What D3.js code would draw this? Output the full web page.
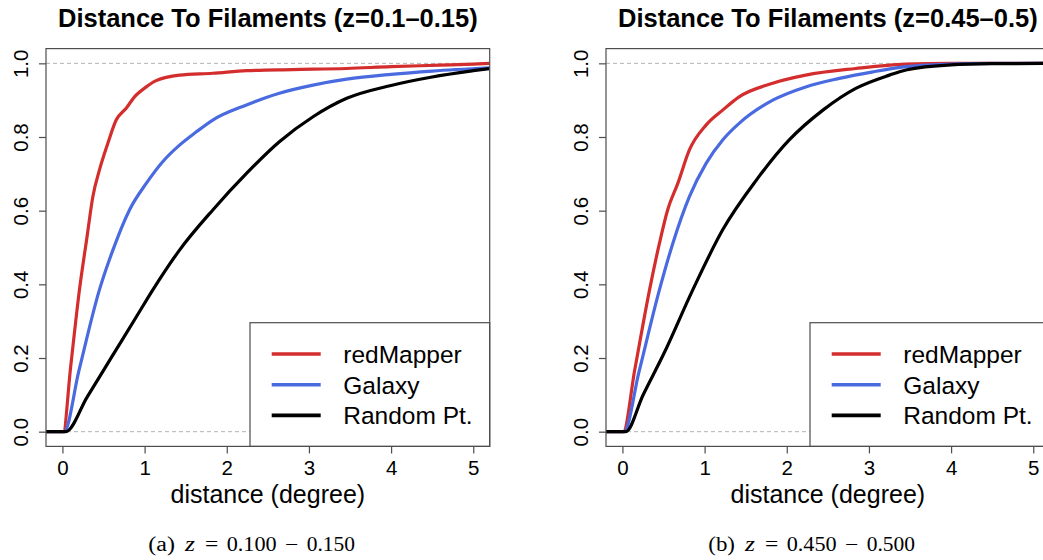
<!DOCTYPE html>
<html>
<head>
<meta charset="utf-8">
<script src="https://cdn.jsdelivr.net/npm/d3@7"></script>
<style>
  body { margin: 0; background: #fff; }
  svg { display: block; font-family: "Liberation Sans", Arial, Helvetica, sans-serif; }
</style>
</head>
<body>
<svg id="chart" width="1043" height="560"></svg>
<script>
// values, [distance (deg), fraction]
const xTicks = [0, 1, 2, 3, 4, 5]
const yTicks = [0, 0.2, 0.4, 0.6, 0.8, 1.0]
const seriesNames = ['redMapper', 'Galaxy', 'Random Pt.']
const panelTitles = ['Distance To Filaments (z=0.1\u20130.15)', 'Distance To Filaments (z=0.45\u20130.5)']
const captionTags = ['(a)', '(b)']
const captionRanges = [['0.100', '0.150'], ['0.450', '0.500']]

// panel (a) z = 0.10 - 0.15
const redA = [[-0.2, 0], [0.01, 0], [0.1, 0.176], [0.207, 0.385], [0.3, 0.53], [0.37, 0.638], [0.45, 0.71],
  [0.553, 0.783], [0.654, 0.846], [0.776, 0.878], [0.877, 0.909], [1.02, 0.936], [1.14, 0.953],
  [1.425, 0.968], [1.83, 0.973], [2.24, 0.98], [2.8, 0.983], [3.46, 0.986], [4.0, 0.991],
  [4.6, 0.995], [5.0, 0.998], [5.2, 1.0]]
const blueA = [[-0.2, 0], [0.02, 0], [0.2, 0.165], [0.45, 0.385], [0.614, 0.493], [0.816, 0.602],
  [1.02, 0.674], [1.22, 0.733], [1.425, 0.778], [1.63, 0.814], [1.83, 0.846], [2.24, 0.887],
  [2.64, 0.919], [3.05, 0.941], [3.46, 0.957], [4.0, 0.97], [4.5, 0.979], [5.2, 0.988]]
const blackA = [[-0.2, 0], [0.04, 0], [0.3, 0.094], [0.6, 0.203], [0.9, 0.312], [1.1, 0.385],
  [1.425, 0.493], [1.83, 0.602], [2.24, 0.701], [2.64, 0.787], [3.05, 0.855], [3.46, 0.905],
  [4.0, 0.94], [4.5, 0.963], [5.0, 0.98], [5.2, 0.986]]

// panel (b) z = 0.45 - 0.50
const redB = [[-0.2, 0], [0.01, 0], [0.15, 0.168], [0.33, 0.385], [0.45, 0.511], [0.55, 0.602],
  [0.674, 0.674], [0.815, 0.765], [1.02, 0.833], [1.22, 0.873], [1.42, 0.909], [1.83, 0.946],
  [2.23, 0.968], [2.84, 0.986], [3.45, 0.998], [4.0, 1.0], [5.2, 1.0]]
const blueB = [[-0.2, 0], [0.02, 0], [0.2, 0.161], [0.45, 0.385], [0.613, 0.511], [0.815, 0.638],
  [1.02, 0.729], [1.22, 0.792], [1.42, 0.837], [1.83, 0.9], [2.23, 0.936], [2.64, 0.959],
  [3.05, 0.977], [3.45, 0.991], [4.0, 0.998], [4.5, 1.0], [5.2, 1.0]]
const blackB = [[-0.2, 0], [0.04, 0], [0.25, 0.099], [0.5, 0.21], [0.856, 0.385], [1.22, 0.548],
  [1.63, 0.683], [2.03, 0.792], [2.44, 0.873], [2.84, 0.932], [3.25, 0.968], [3.45, 0.982],
  [4.0, 0.996], [4.5, 0.999], [5.2, 1.0]]

const panelSeries = [[redA, blueA, blackA], [redB, blueB, blackB]]

;(function() {
  const
    panelShift = 560,
    plotLeft = 46,
    plotRight = 489.7,
    plotTop = 48.6,
    plotBottom = 446.4,
    boxColor = '#4d4d4d',
    colors = ['#d42d2d', '#4a6ae0', '#000000']

  // caption pieces: [x start, width] measured on the reference
  const captionLayout = [[148.3, 26.7], [185, 10], [205, 13.3], [226.7, 50], [285, 13.3], [306.7, 48.3]]

  const svg = d3.select('#chart')

  const x = d3.scaleLinear().domain([-0.2, 5.2]).range([plotLeft, plotRight])
  const y = d3.scaleLinear().domain([-0.04, 1.04]).range([plotBottom, plotTop])

  const line = d3.line()
    .x(function(d) { return x(d[0]) })
    .y(function(d) { return y(d[1]) })
    .curve(d3.curveMonotoneX)

  panelSeries.forEach(drawPanel)

  function drawPanel(series, i) {
    const g = svg.append('g').attr('transform', 'translate(' + (i * panelShift) + ',0)')

    g.append('clipPath').attr('id', 'clip-' + i)
      .append('rect')
      .attr('x', plotLeft).attr('y', plotTop)
      .attr('width', plotRight - plotLeft).attr('height', plotBottom - plotTop)

    // dashed guides at 0 and 1
    g.selectAll('.guide')
      .data([0, 1])
      .enter()
      .append('line')
      .attr('class', 'guide')
      .attr('x1', plotLeft).attr('x2', plotRight)
      .attr('y1', function(d) { return y(d) })
      .attr('y2', function(d) { return y(d) })
      .attr('stroke', '#b3b3b3')
      .attr('stroke-width', 1)
      .attr('stroke-dasharray', '4,3')

    g.append('g')
      .attr('clip-path', 'url(#clip-' + i + ')')
      .selectAll('path')
      .data(series)
      .enter()
      .append('path')
      .attr('d', line)
      .attr('fill', 'none')
      .attr('stroke', function(d, k) { return colors[k] })
      .attr('stroke-width', 3.2)
      .attr('stroke-linejoin', 'round')

    // legend
    const legendLeft = 250,
      legendTop = 322.7
    g.append('rect')
      .attr('x', legendLeft).attr('y', legendTop)
      .attr('width', plotRight - legendLeft).attr('height', plotBottom - legendTop)
      .attr('fill', '#fff')
      .attr('stroke', boxColor)
      .attr('stroke-width', 1.2)

    const items = g.selectAll('.legend-item')
      .data(seriesNames)
      .enter()
      .append('g')
      .attr('class', 'legend-item')
      .attr('transform', function(d, k) { return 'translate(0,' + (legendTop + 31.3 + k * 30.7) + ')' })

    items.append('line')
      .attr('x1', legendLeft + 21.7).attr('x2', legendLeft + 70.7)
      .attr('stroke', function(d, k) { return colors[k] })
      .attr('stroke-width', 3.6)

    items.append('text')
      .attr('x', legendLeft + 93.3)
      .attr('y', 9)
      .attr('font-size', 24.5)
      .text(function(d) { return d })

    // plot box
    g.append('rect')
      .attr('x', plotLeft).attr('y', plotTop)
      .attr('width', plotRight - plotLeft).attr('height', plotBottom - plotTop)
      .attr('fill', 'none')
      .attr('stroke', boxColor)
      .attr('stroke-width', 1.2)

    const yAxis = g.append('g')
      .attr('transform', 'translate(' + plotLeft + ',0)')
      .call(d3.axisLeft(y).tickValues(yTicks).tickSize(7).tickSizeOuter(0).tickFormat(d3.format('.1f')))
    yAxis.select('.domain').remove()
    yAxis.attr('font-size', 20.5).attr('font-family', null)
    yAxis.selectAll('line').attr('stroke', boxColor).attr('stroke-width', 1.2)
    yAxis.selectAll('text')
      .attr('fill', '#000')
      .attr('transform', 'rotate(-90)')
      .attr('x', 0)
      .attr('y', -18)
      .attr('dy', 0)
      .attr('text-anchor', 'middle')

    const xAxis = g.append('g')
      .attr('transform', 'translate(0,' + plotBottom + ')')
      .call(d3.axisBottom(x).tickValues(xTicks).tickSize(7).tickSizeOuter(0).tickPadding(7).tickFormat(d3.format('d')))
    xAxis.select('.domain').remove()
    xAxis.attr('font-size', 20.5).attr('font-family', null)
    xAxis.selectAll('line').attr('stroke', boxColor).attr('stroke-width', 1.2)
    xAxis.selectAll('text').attr('fill', '#000')

    g.append('text')
      .attr('x', (plotLeft + plotRight) / 2)
      .attr('y', 503)
      .attr('text-anchor', 'middle')
      .attr('font-size', 25)
      .text('distance (degree)')

    g.append('text')
      .attr('x', (plotLeft + plotRight) / 2)
      .attr('y', 27)
      .attr('text-anchor', 'middle')
      .attr('font-size', 25.5)
      .attr('font-weight', 'bold')
      .text(panelTitles[i])

    // caption under the panel, set like LaTeX math
    const pieces = [captionTags[i], 'z', '=', captionRanges[i][0], '\u2212', captionRanges[i][1]]
    g.append('g')
      .attr('font-family', '"Liberation Serif", "Times New Roman", serif')
      .attr('font-size', 20)
      .selectAll('text')
      .data(pieces)
      .enter()
      .append('text')
      .attr('x', function(d, k) { return captionLayout[k][0] })
      .attr('y', 550.7)
      .attr('textLength', function(d, k) { return captionLayout[k][1] })
      .attr('lengthAdjust', 'spacingAndGlyphs')
      .attr('font-style', function(d, k) { return k === 1 ? 'italic' : null })
      .text(function(d) { return d })
  }
})();
</script>
</body>
</html>
